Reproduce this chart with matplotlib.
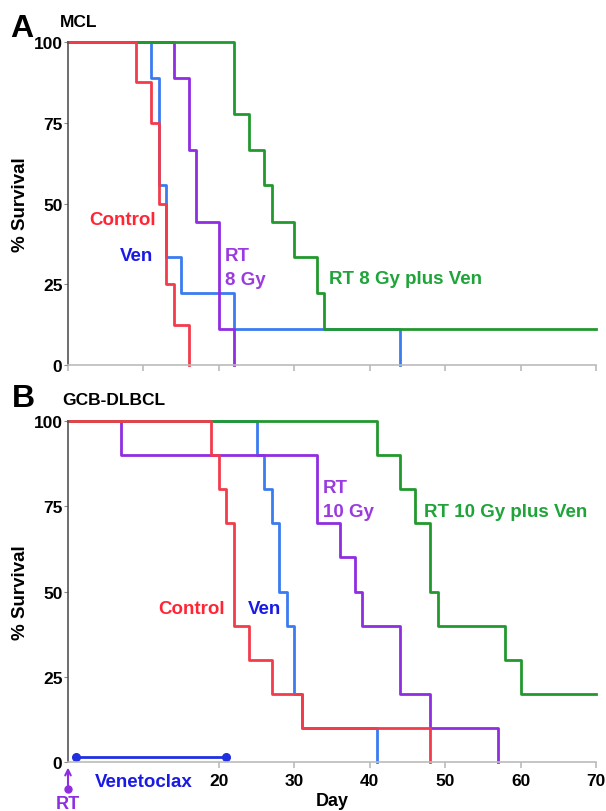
import matplotlib
matplotlib.use('Agg')
import matplotlib.pyplot as plt

# Panel A (MCL) - days of events and survival (%) after each step
a_ctrl_days = [0, 9, 11, 12, 13, 14, 16]
a_ctrl_surv = [100, 87.5, 75, 50, 25, 12.5, 0]
a_ven_days = [0, 11, 12, 13, 15, 22, 44]
a_ven_surv = [100, 88.9, 55.6, 33.3, 22.2, 11.1, 0]
a_rt_days = [0, 14, 16, 17, 20, 22]
a_rt_surv = [100, 88.9, 66.7, 44.4, 11.1, 0]
a_combo_days = [0, 22, 24, 26, 27, 30, 33, 34, 70]
a_combo_surv = [100, 77.8, 66.7, 55.6, 44.4, 33.3, 22.2, 11.1, 11.1]

# Panel B (GCB-DLBCL)
b_ctrl_days = [0, 19, 20, 21, 22, 24, 27, 31, 48]
b_ctrl_surv = [100, 90, 80, 70, 40, 30, 20, 10, 0]
b_ven_days = [0, 25, 26, 27, 28, 29, 30, 31, 41]
b_ven_surv = [100, 90, 80, 70, 50, 40, 20, 10, 0]
b_rt_days = [0, 7, 33, 36, 38, 39, 44, 48, 57]
b_rt_surv = [100, 90, 70, 60, 50, 40, 20, 10, 0]
b_combo_days = [0, 41, 44, 46, 48, 49, 58, 60, 70]
b_combo_surv = [100, 90, 80, 70, 50, 40, 30, 20, 20]

ven_window = [1, 21]
y_ticks = [0, 25, 50, 75, 100]
b_x_ticks = [20, 30, 40, 50, 60, 70]

RED, BLUE, PURPLE, GREEN = '#f23c4c', '#3a7bf0', '#8f2ee0', '#22992e'
T_RED, T_BLUE, T_PURPLE, T_GREEN = '#ff2535', '#1a1ae6', '#9a3ae0', '#1fa43a'

plt.rcParams['font.family'] = ['Liberation Sans', 'DejaVu Sans']
plt.rcParams['font.weight'] = 'bold'

fig = plt.figure(figsize=(6.06, 8.12), dpi=100)
axA = fig.add_axes([0.1122, 0.5493, 0.8713, 0.3977])
axB = fig.add_axes([0.1122, 0.0603, 0.8713, 0.4200])


def style_axis(ax):
	ax.set_xlim(0, 70)
	ax.set_ylim(0, 100)
	ax.spines['top'].set_visible(False)
	ax.spines['right'].set_visible(False)
	ax.spines['left'].set_color('#555555')
	ax.spines['left'].set_linewidth(1.2)
	ax.spines['bottom'].set_color('#bbbbbb')
	ax.spines['bottom'].set_linewidth(1.2)
	ax.set_yticks(y_ticks)
	ax.set_yticklabels([str(v) for v in y_ticks], fontsize=12.5, fontweight='bold')
	ax.tick_params(axis='y', length=3, color='#888888', pad=1)
	ax.tick_params(axis='x', length=4, color='#bbbbbb', width=1.2)
	ax.set_ylabel('% Survival', fontsize=13.5, fontweight='bold', labelpad=3)


def draw_curve(ax, days, surv, color):
	ax.step(days, surv, where='post', color=color, lw=2.0, clip_on=False)


# ---- Panel A
style_axis(axA)
draw_curve(axA, a_ven_days, a_ven_surv, BLUE)
draw_curve(axA, a_rt_days, a_rt_surv, PURPLE)
draw_curve(axA, a_combo_days, a_combo_surv, GREEN)
draw_curve(axA, a_ctrl_days, a_ctrl_surv, RED)
axA.set_xticks(range(0, 71, 10))
axA.set_xticklabels([])

axA.text(7.2, 45, 'Control', color=T_RED, fontsize=13.5, ha='center', va='center')
axA.text(9.1, 33.8, 'Ven', color=T_BLUE, fontsize=13.5, ha='center', va='center')
axA.text(20.8, 33.8, 'RT', color=T_PURPLE, fontsize=13.5, ha='left', va='center')
axA.text(20.8, 26.4, '8 Gy', color=T_PURPLE, fontsize=13.5, ha='left', va='center')
axA.text(34.6, 26.8, 'RT 8 Gy plus Ven', color=T_GREEN, fontsize=13.5, ha='left', va='center')

fig.text(10 / 606, 1 - 37 / 812, 'A', fontsize=23, fontweight='bold', ha='left', va='baseline')
fig.text(60 / 606, 1 - 27 / 812, 'MCL', fontsize=12.5, fontweight='bold', ha='left', va='baseline')

# ---- Panel B
style_axis(axB)
draw_curve(axB, b_ven_days, b_ven_surv, BLUE)
draw_curve(axB, b_rt_days, b_rt_surv, PURPLE)
draw_curve(axB, b_combo_days, b_combo_surv, GREEN)
draw_curve(axB, b_ctrl_days, b_ctrl_surv, RED)
axB.set_xticks(b_x_ticks)
axB.set_xticklabels([str(v) for v in b_x_ticks], fontsize=12.5, fontweight='bold')
axB.tick_params(axis='x', pad=4)
axB.set_xlabel('Day', fontsize=13, fontweight='bold', labelpad=3)

axB.text(16.4, 44.9, 'Control', color=T_RED, fontsize=13.5, ha='center', va='center')
axB.text(26.1, 44.9, 'Ven', color=T_BLUE, fontsize=13.5, ha='center', va='center')
axB.text(33.8, 80.6, 'RT', color=T_PURPLE, fontsize=13.5, ha='left', va='center')
axB.text(33.8, 73.6, '10 Gy', color=T_PURPLE, fontsize=13.5, ha='left', va='center')
axB.text(47.2, 73.6, 'RT 10 Gy plus Ven', color=T_GREEN, fontsize=13.5, ha='left', va='center')

# venetoclax dosing window and RT marker
axB.plot(ven_window, [1.5, 1.5], color='#2030e0', lw=2, marker='o', ms=5.5, clip_on=False)
axB.text(10, -5.6, 'Venetoclax', color=T_BLUE, fontsize=13.5, ha='center', va='center', clip_on=False)
axB.annotate('', xy=(0, -0.8), xytext=(0, -8.0), annotation_clip=False,
			 arrowprops=dict(arrowstyle='->', color=PURPLE, lw=1.5))
axB.plot([0], [-8.0], 'o', color=PURPLE, ms=5, clip_on=False)
axB.text(0, -12.2, 'RT', color=PURPLE, fontsize=13, ha='center', va='center', clip_on=False)

fig.text(12 / 606, 1 - 407 / 812, 'B', fontsize=23, fontweight='bold', ha='left', va='baseline')
fig.text(62 / 606, 1 - 405 / 812, 'GCB-DLBCL', fontsize=12.5, fontweight='bold', ha='left', va='baseline')

fig.savefig('out.png', dpi=100)
